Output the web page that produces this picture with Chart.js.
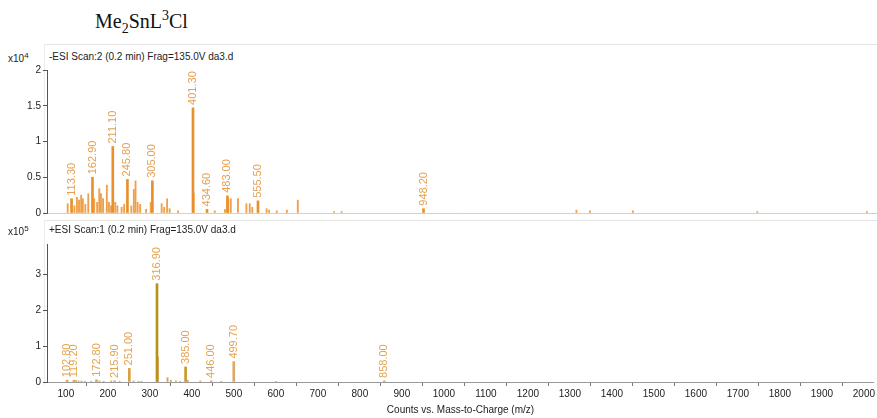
<!DOCTYPE html>
<html>
<head>
<meta charset="utf-8">
<script src="https://cdn.jsdelivr.net/npm/chart.js@4.4.0/dist/chart.umd.min.js"></script>
<style>
  body { margin: 0; width: 877px; height: 418px; background: #fff; position: relative; overflow: hidden;
         font-family: "Liberation Sans", Arial, sans-serif; }
  #title { position: absolute; left: 95px; top: 8px; font-family: "Liberation Serif", "Times New Roman", serif;
           font-size: 20px; color: #111; }
  #title sub, #title sup { font-size: 14px; }
  .mult { position: absolute; left: 8px; font-size: 10px; color: #222; }
  .mult sup { font-size: 8px; }
  .scan { position: absolute; left: 49px; font-size: 10px; color: #222; }
  .frame { position: absolute; left: 44px; width: 833px; border-top: 1px solid #e6e6e6; border-left: 1px solid #ececec; }
  .box { position: absolute; left: 0; width: 877px; }
</style>
</head>
<body>
<div id="title">Me<sub>2</sub>SnL<sup>3</sup>Cl</div>

<div class="frame" style="top:44px;height:170px"></div>
<div class="mult" style="top:51px">x10<sup>4</sup></div>
<div class="scan" style="top:51px">-ESI Scan:2 (0.2 min) Frag=135.0V da3.d</div>
<div class="box" style="top:61px;height:160px"><canvas id="negChart" width="877" height="160"></canvas></div>

<div class="frame" style="top:220px;height:164px"></div>
<div class="mult" style="top:224px">x10<sup>5</sup></div>
<div class="scan" style="top:224px">+ESI Scan:1 (0.2 min) Frag=135.0V da3.d</div>
<div class="box" style="top:236px;height:182px"><canvas id="posChart" width="877" height="182"></canvas></div>

<script>
// m/z range shown on both panels
const mzMin = 55;
const mzMax = 2024;

// -ESI scan, counts x10^4
const negPeakMz   = [113.3, 162.9, 211.1, 245.8, 305.0, 401.3, 434.6, 483.0, 555.5, 948.2];
const negPeakInt  = [0.20, 0.50, 0.93, 0.47, 0.45, 1.47, 0.05, 0.24, 0.17, 0.06];
const negPeakText = ['113.30', '162.90', '211.10', '245.80', '305.00', '401.30', '434.60', '483.00', '555.50', '948.20'];
const negMinorMz  = [104, 120, 126, 131, 136, 140, 146, 153, 167, 174, 179, 183, 188, 197, 202, 207, 217, 222,
                     232, 238, 255, 261, 265, 270, 276, 290, 301, 327, 333, 340, 346, 366, 403, 453, 477, 485, 491,
                     508, 528, 536, 542, 576, 582, 600, 624, 650, 736, 754, 1311, 1343, 1445, 1740, 2000];
const negMinorInt = [0.13, 0.10, 0.22, 0.18, 0.25, 0.20, 0.12, 0.27, 0.20, 0.15, 0.34, 0.27, 0.20, 0.39, 0.15, 0.10, 0.15, 0.10,
                     0.08, 0.12, 0.10, 0.33, 0.45, 0.15, 0.12, 0.05, 0.15, 0.13, 0.08, 0.20, 0.06, 0.03, 0.28, 0.03, 0.05, 0.20, 0.20,
                     0.20, 0.13, 0.13, 0.08, 0.06, 0.04, 0.03, 0.04, 0.18, 0.02, 0.02, 0.04, 0.03, 0.03, 0.02, 0.02];

// +ESI scan, counts x10^5
const posPeakMz   = [102.8, 119.2, 172.8, 215.9, 251.0, 316.9, 385.0, 446.0, 499.7, 858.0];
const posPeakInt  = [0.05, 0.05, 0.06, 0.03, 0.38, 2.75, 0.42, 0.03, 0.57, 0.03];
const posPeakText = ['102.80', '119.20', '172.80', '215.90', '251.00', '316.90', '385.00', '446.00', '499.70', '858.00'];
const posMinorMz  = [124, 130, 137, 145, 160, 180, 190, 208, 228, 261, 273, 280, 318.9, 342, 350, 362, 372, 390, 420, 470, 600];
const posMinorInt = [0.04, 0.03, 0.03, 0.02, 0.02, 0.03, 0.02, 0.03, 0.02, 0.03, 0.02, 0.02, 0.70, 0.12, 0.05, 0.03, 0.02, 0.05, 0.03, 0.02, 0.01];

const toPoints = (xs, ys) => xs.map((x, i) => ({ x: x, y: ys[i] }));

// vertical peak labels over the labelled bars (dataset 0)
const peakLabels = {
  id: 'peakLabels',
  afterDatasetsDraw(chart, args, opts) {
    const ctx = chart.ctx;
    const meta = chart.getDatasetMeta(0);
    ctx.save();
    ctx.font = '11px "Liberation Sans", Arial, sans-serif';
    ctx.textAlign = 'left';
    ctx.textBaseline = 'middle';
    meta.data.forEach((bar, i) => {
      ctx.save();
      ctx.translate(bar.x, bar.y - 3);
      ctx.rotate(-Math.PI / 2);
      ctx.fillStyle = opts.color;
      ctx.fillText(opts.texts[i], 0, 0);
      ctx.restore();
    });
    ctx.restore();
  }
};

function spectrum(id, major, minor, texts, yMax, yStep, showX, pad, colors) {
  return new Chart(document.getElementById(id), {
    type: 'bar',
    data: {
      datasets: [
        { data: major, backgroundColor: colors.major, barThickness: 2, grouped: false },
        { data: minor, backgroundColor: colors.minor, barThickness: 1.2, grouped: false }
      ]
    },
    options: {
      responsive: false,
      animation: false,
      layout: { padding: pad },
      plugins: {
        legend: { display: false },
        tooltip: { enabled: false },
        peakLabels: { texts: texts, color: colors.label }
      },
      scales: {
        x: {
          type: 'linear',
          min: mzMin,
          max: mzMax,
          offset: false,
          display: showX,
          afterFit: s => { if (showX) s.height = 34; },
          ticks: { stepSize: 100, includeBounds: false, autoSkip: false, maxRotation: 0,
                   color: '#222', font: { size: 10 }, padding: 2, callback: v => String(v) },
          grid: { drawOnChartArea: false, tickLength: 4, tickColor: '#777' },
          border: { color: '#999' },
          title: { display: true, text: 'Counts vs. Mass-to-Charge (m/z)', color: '#222',
                   font: { size: 10 }, padding: { top: 1, bottom: 0 } }
        },
        y: {
          min: 0,
          max: yMax,
          afterFit: s => { s.width = 47; },
          ticks: { stepSize: yStep, includeBounds: false, color: '#222', font: { size: 10 }, padding: 2,
                   callback: v => String(v) },
          grid: { color: c => c.tick && c.tick.value === 0 ? '#d0d0d0' : 'rgba(0,0,0,0)',
                  tickLength: 4, tickColor: '#555' },
          border: { color: '#555' }
        }
      }
    },
    plugins: [peakLabels]
  });
}

spectrum('negChart', toPoints(negPeakMz, negPeakInt), toPoints(negMinorMz, negMinorInt), negPeakText,
  2, 0.5, false, { top: 9, bottom: 3, left: 0, right: 0 },
  { major: '#e8902c', minor: '#eea04a', label: '#e6a050' });

spectrum('posChart', toPoints(posPeakMz, posPeakInt), toPoints(posMinorMz, posMinorInt), posPeakText,
  3.86, 1, true, { top: 7, bottom: 2, left: 0, right: 0 },
  { major: ['#e0a050', '#e0a050', '#e0a050', '#e0a050', '#d8a040', '#b8901a', '#c89a28', '#e0a050', '#e0a868', '#e0a050'],
    minor: '#d8a050', label: '#e2a450' });
</script>
</body>
</html>
